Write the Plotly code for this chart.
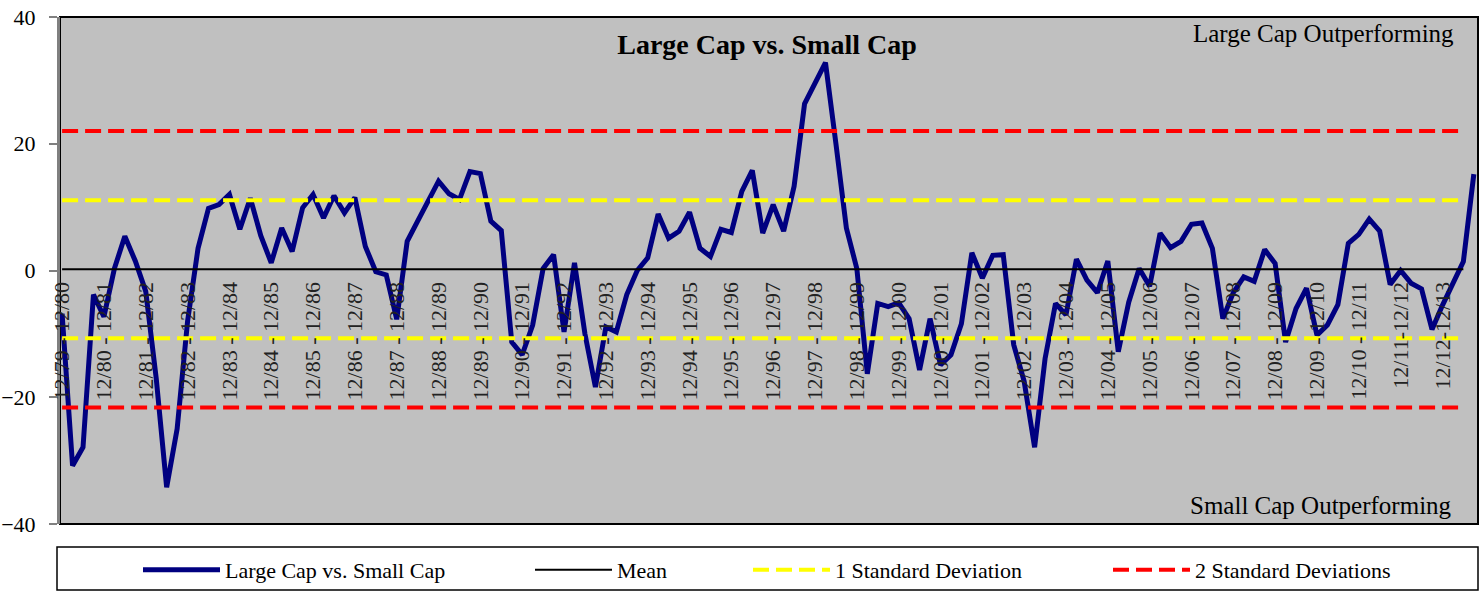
import plotly.graph_objects as go

# Quarterly rolling 1-year return difference: Large Cap minus Small Cap
values = [
    -6.8, -30.8, -27.9, -3.8, -7.3, 0.3, 5.4, 1.5, -3.3, -17.0,
    -34.2, -25.0, -8.0, 3.5, 9.8, 10.4, 12.0, 6.5, 11.4, 5.5,
    1.2, 6.7, 3.0, 9.9, 12.0, 8.3, 11.8, 9.1, 11.5, 3.8,
    -0.2, -0.7, -7.7, 4.6, 7.8, 10.9, 14.1, 12.1, 11.2, 15.6,
    15.3, 7.8, 6.3, -11.3, -13.3, -8.6, 0.3, 2.5, -9.7, 1.2,
    -10.0, -18.4, -8.9, -9.7, -3.8, 0.0, 2.0, 8.9, 5.1, 6.2,
    9.2, 3.5, 2.2, 6.5, 6.0, 12.5, 15.8, 5.9, 10.4, 6.2,
    13.3, 26.3, 29.5, 32.8, 20.0, 6.7, 0.3, -16.3, -5.2, -5.7,
    -5.1, -7.6, -15.7, -7.6, -14.9, -13.3, -8.4, 2.8, -1.2, 2.4,
    2.5, -11.7, -17.5, -27.9, -13.9, -5.2, -7.0, 1.8, -1.5, -3.5,
    1.5, -12.8, -5.0, 0.3, -2.5, 5.9, 3.6, 4.6, 7.3, 7.5,
    3.5, -7.6, -3.5, -1.0, -1.7, 3.3, 1.1, -11.3, -6.0, -2.8,
    -10.2, -8.6, -5.4, 4.3, 5.7, 8.1, 6.2, -2.2, 0.0, -2.0,
    -2.9, -9.3, -5.5, -2.0, 1.4, 15.2,
]
x_index = list(range(len(values)))

mean_value = 0.2
one_sd = 10.9
ref_len = 135  # reference lines span categories 0..134

tick_positions = list(range(0, 133, 4))
tick_labels = [
    "12/79 - 12/80", "12/80 - 12/81", "12/81 - 12/82", "12/82 - 12/83",
    "12/83 - 12/84", "12/84 - 12/85", "12/85 - 12/86", "12/86 - 12/87",
    "12/87 - 12/88", "12/88 - 12/89", "12/89 - 12/90", "12/90 - 12/91",
    "12/91 - 12/92", "12/92 - 12/93", "12/93 - 12/94", "12/94 - 12/95",
    "12/95 - 12/96", "12/96 - 12/97", "12/97 - 12/98", "12/98 - 12/99",
    "12/99 - 12/00", "12/00 - 12/01", "12/01 - 12/02", "12/02 - 12/03",
    "12/03 - 12/04", "12/04 - 12/05", "12/05 - 12/06", "12/06 - 12/07",
    "12/07 - 12/08", "12/08 - 12/09", "12/09 - 12/10", "12/10 - 12/11",
    "12/11-12/12", "12/12-12/13",
]

FONT = "Liberation Serif"
ref_x = list(range(ref_len))

fig = go.Figure()
fig.add_trace(go.Scatter(
    x=x_index, y=values, mode="lines", name="Large Cap vs. Small Cap",
    line=dict(color="#000080", width=5), legend="legend",
))
fig.add_trace(go.Scatter(
    x=ref_x, y=[mean_value] * ref_len, mode="lines", name="Mean",
    line=dict(color="black", width=2), legend="legend2",
))
fig.add_trace(go.Scatter(
    x=ref_x, y=[mean_value + one_sd] * ref_len, mode="lines",
    name="1 Standard Deviation", legendgroup="sd1",
    line=dict(color="#FFFF00", width=4, dash="16px,7px"), legend="legend3",
))
fig.add_trace(go.Scatter(
    x=ref_x, y=[mean_value - one_sd] * ref_len, mode="lines",
    name="1 Standard Deviation", legendgroup="sd1", showlegend=False,
    line=dict(color="#FFFF00", width=4, dash="16px,7px"),
))
fig.add_trace(go.Scatter(
    x=ref_x, y=[mean_value + 2 * one_sd] * ref_len, mode="lines",
    name="2 Standard Deviations", legendgroup="sd2",
    line=dict(color="#FF0000", width=4, dash="16px,7px"), legend="legend4",
))
fig.add_trace(go.Scatter(
    x=ref_x, y=[mean_value - 2 * one_sd] * ref_len, mode="lines",
    name="2 Standard Deviations", legendgroup="sd2", showlegend=False,
    line=dict(color="#FF0000", width=4, dash="16px,7px"),
))

W, H = 1482, 591
L, R, T, B = 60, 4, 17, 67
pw = W - L - R
ph = H - T - B


def px_x(p):
    return (p - L) / pw


def px_y(p):
    return (H - B - p) / ph


legend_common = dict(
    orientation="h", xanchor="left", yanchor="middle", bgcolor="rgba(0,0,0,0)",
    borderwidth=0, font=dict(family=FONT, size=22, color="black"), itemwidth=77,
)
leg_y = px_y(570)

fig.update_layout(
    width=W, height=H,
    margin=dict(l=L, r=R, t=T, b=B, autoexpand=False),
    paper_bgcolor="white",
    plot_bgcolor="#C0C0C0",
    font=dict(family=FONT, color="black"),
    title=dict(
        text="<b>Large Cap vs. Small Cap</b>", xref="paper", x=px_x(767),
        xanchor="center", yref="container", y=1 - 44 / H, yanchor="middle",
        font=dict(family=FONT, size=28, color="black"),
    ),
    xaxis=dict(
        range=[-0.2, 135.4], anchor="free", position=0.5,
        tickmode="array", tickvals=tick_positions, ticktext=tick_labels,
        tickangle=-90, ticks="", showline=False, showgrid=False, zeroline=False,
        tickfont=dict(family=FONT, size=22, color="#222222"),
        ticklabelstandoff=6, automargin=False,
    ),
    yaxis=dict(
        range=[-40, 40], tickvals=[-40, -20, 0, 20, 40],
        ticks="outside", ticklen=8, tickcolor="#808080", tickwidth=2,
        showline=True, linecolor="#808080", linewidth=3,
        showgrid=False, zeroline=False, automargin=False,
        tickfont=dict(family=FONT, size=22, color="black"),
        ticklabelstandoff=9,
    ),
    legend=dict(x=px_x(138), y=leg_y, **legend_common),
    legend2=dict(x=px_x(530), y=leg_y, **legend_common),
    legend3=dict(x=px_x(748), y=leg_y, **legend_common),
    legend4=dict(x=px_x(1108), y=leg_y, **legend_common),
    showlegend=True,
    shapes=[
        dict(type="rect", xref="paper", yref="paper", x0=0, x1=1, y0=0, y1=1,
             line=dict(color="black", width=2), layer="below"),
        dict(type="rect", xref="paper", yref="paper",
             x0=px_x(57), x1=px_x(1478), y0=px_y(590), y1=px_y(547),
             line=dict(color="black", width=1.5), fillcolor="white", layer="below"),
    ],
    annotations=[
        dict(text="Large Cap Outperforming", xref="paper", yref="paper",
             x=px_x(1456), y=px_y(34), xanchor="right", yanchor="middle",
             showarrow=False, font=dict(family=FONT, size=25, color="black")),
        dict(text="Small Cap Outperforming", xref="paper", yref="paper",
             x=px_x(1454), y=px_y(505), xanchor="right", yanchor="middle",
             showarrow=False, font=dict(family=FONT, size=25, color="black")),
    ],
)

fig.write_html(
    "out.html",
    config={"displayModeBar": False},
    post_script="document.body.style.margin='0';document.body.style.padding='0';",
)
